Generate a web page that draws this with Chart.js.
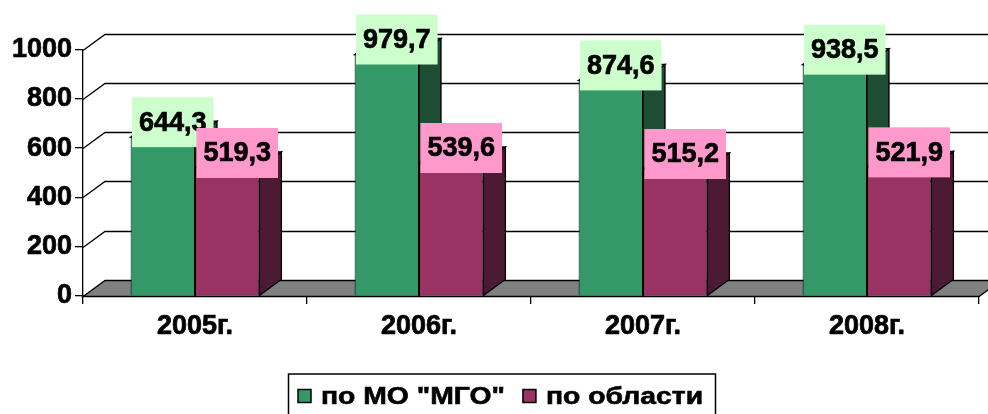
<!DOCTYPE html>
<html>
<head>
<meta charset="utf-8">
<script src="https://cdn.jsdelivr.net/npm/chart.js@4.4.1/dist/chart.umd.min.js"></script>
<style>
  html, body { margin: 0; padding: 0; background: #fff; }
</style>
</head>
<body>
<canvas id="barChart" width="988" height="414"></canvas>
<script>
const years = ['2005г.', '2006г.', '2007г.', '2008г.']
const mgoValues = [644.3, 979.7, 874.6, 938.5]
const regionValues = [519.3, 539.6, 515.2, 521.9]
const yTicks = [0, 200, 400, 600, 800, 1000]
const seriesNames = ['по МО "МГО"', 'по области']

const DX = 22
const DY = 16
const frontColors = ['#339966', '#993366']
const sideColors = ['#1F4D33', '#4D1A33']
const labelColors = ['#CCFFCC', '#FF99CC']
const FONT = '"Liberation Sans", Arial, sans-serif'

// 3D look: back wall lines, floor, side and top faces of the bars
const depthPlugin = {
  id: 'depth',
  beforeDatasetsDraw(chart) {
    const { ctx, chartArea: a, scales: { y } } = chart
    ctx.save()
    ctx.strokeStyle = '#000'
    ctx.lineWidth = 1.3

    yTicks.forEach(v => {
      if (v === 0) return
      const py = Math.round(y.getPixelForValue(v)) + 0.5
      ctx.beginPath()
      ctx.moveTo(a.left, py)
      ctx.lineTo(a.left + DX, py - DY)
      ctx.lineTo(chart.width + 10, py - DY)
      ctx.stroke()
    })

    const fy = Math.round(y.getPixelForValue(0)) + 0.5
    ctx.beginPath()
    ctx.moveTo(a.left, fy)
    ctx.lineTo(a.right, fy)
    ctx.lineTo(a.right + DX, fy - DY)
    ctx.lineTo(a.left + DX, fy - DY)
    ctx.closePath()
    ctx.fillStyle = '#808080'
    ctx.fill()
    ctx.stroke()

    chart.data.datasets.forEach((ds, i) => {
      chart.getDatasetMeta(i).data.forEach(bar => {
        const l = bar.x - bar.width / 2
        const r = bar.x + bar.width / 2
        ctx.beginPath()
        ctx.moveTo(r, bar.base)
        ctx.lineTo(r + DX, bar.base - DY)
        ctx.lineTo(r + DX, bar.y - DY)
        ctx.lineTo(r, bar.y)
        ctx.closePath()
        ctx.fillStyle = sideColors[i]
        ctx.fill()
        ctx.stroke()

        ctx.beginPath()
        ctx.moveTo(l, bar.y)
        ctx.lineTo(r, bar.y)
        ctx.lineTo(r + DX, bar.y - DY)
        ctx.lineTo(l + DX, bar.y - DY)
        ctx.closePath()
        ctx.fillStyle = frontColors[i]
        ctx.fill()
        ctx.stroke()
      })
    })
    ctx.restore()
  },
  afterDatasetsDraw(chart) {
    const ctx = chart.ctx
    ctx.save()
    ctx.font = 'bold 27px ' + FONT
    ctx.textAlign = 'center'
    ctx.textBaseline = 'middle'
    ctx.lineWidth = 0.7
    ctx.strokeStyle = '#000'
    chart.data.datasets.forEach((ds, i) => {
      chart.getDatasetMeta(i).data.forEach((bar, j) => {
        const txt = ds.data[j].toFixed(1).replace('.', ',')
        const w = ctx.measureText(txt).width + 14
        const h = 50
        const cx = bar.x + 10
        const cy = bar.y - 15
        ctx.fillStyle = labelColors[i]
        ctx.fillRect(cx - w / 2, cy - h / 2, w, h)
        ctx.fillStyle = '#000'
        ctx.fillText(txt, cx, cy + 1)
        ctx.strokeText(txt, cx, cy + 1)
      })
    })
    ctx.restore()
  },
  afterDraw(chart) {
    // legend with frame, cut by the bottom edge like the original
    const ctx = chart.ctx
    const sx = 1.18
    ctx.save()
    ctx.font = 'bold 24px ' + FONT
    ctx.textBaseline = 'middle'
    let x = 298
    const cy = 396
    chart.data.datasets.forEach((ds, i) => {
      ctx.fillStyle = frontColors[i]
      ctx.fillRect(x, cy - 6.5, 13, 13)
      ctx.strokeStyle = '#000'
      ctx.lineWidth = 1.5
      ctx.strokeRect(x, cy - 6.5, 13, 13)
      const tx = x + 23
      ctx.save()
      ctx.translate(tx, cy + 1)
      ctx.scale(sx, 1)
      ctx.fillStyle = '#000'
      ctx.lineWidth = 0.6
      ctx.fillText(ds.label, 0, 0)
      ctx.strokeText(ds.label, 0, 0)
      ctx.restore()
      x = tx + ctx.measureText(ds.label).width * sx + 18
    })
    ctx.strokeStyle = '#000'
    ctx.lineWidth = 1.5
    ctx.strokeRect(288.5, 374, 427, 50)
    ctx.restore()
  }
}

const canvas = document.getElementById('barChart')
const ctx = canvas.getContext('2d')

new Chart(ctx, {
  type: 'bar',
  data: {
    labels: years,
    datasets: [
      {
        label: seriesNames[0],
        data: mgoValues,
        backgroundColor: frontColors[0],
        borderColor: '#000',
        borderWidth: 1
      },
      {
        label: seriesNames[1],
        data: regionValues,
        backgroundColor: frontColors[1],
        borderColor: '#000',
        borderWidth: 1
      }
    ]
  },
  options: {
    responsive: false,
    animation: false,
    devicePixelRatio: 1,
    layout: { padding: { top: 49.5, right: 9, left: 0, bottom: 0 } },
    datasets: {
      bar: { categoryPercentage: 0.575, barPercentage: 1 }
    },
    plugins: {
      legend: { display: false },
      tooltip: { enabled: false }
    },
    scales: {
      x: {
        afterFit: s => { s.height = 118 },
        grid: { offset: true, drawOnChartArea: false, drawTicks: true, tickLength: 8, color: '#000', lineWidth: 1.3 },
        border: { display: true, color: '#000', width: 1.3 },
        ticks: {
          color: '#000',
          font: { family: FONT, size: 27, weight: 'bold' },
          textStrokeColor: '#000',
          textStrokeWidth: 0.7,
          padding: 6
        }
      },
      y: {
        min: 0,
        max: 1000,
        afterFit: s => { s.width = 83 },
        afterBuildTicks: s => { s.ticks = yTicks.map(v => ({ value: v })) },
        grid: { drawOnChartArea: false, drawTicks: true, tickLength: 8, color: '#000', lineWidth: 1.3 },
        border: { display: true, color: '#000', width: 1.3 },
        ticks: {
          color: '#000',
          font: { family: FONT, size: 27, weight: 'bold' },
          textStrokeColor: '#000',
          textStrokeWidth: 0.7,
          padding: 3,
          callback: v => String(v)
        }
      }
    }
  },
  plugins: [depthPlugin]
})
</script>
</body>
</html>
